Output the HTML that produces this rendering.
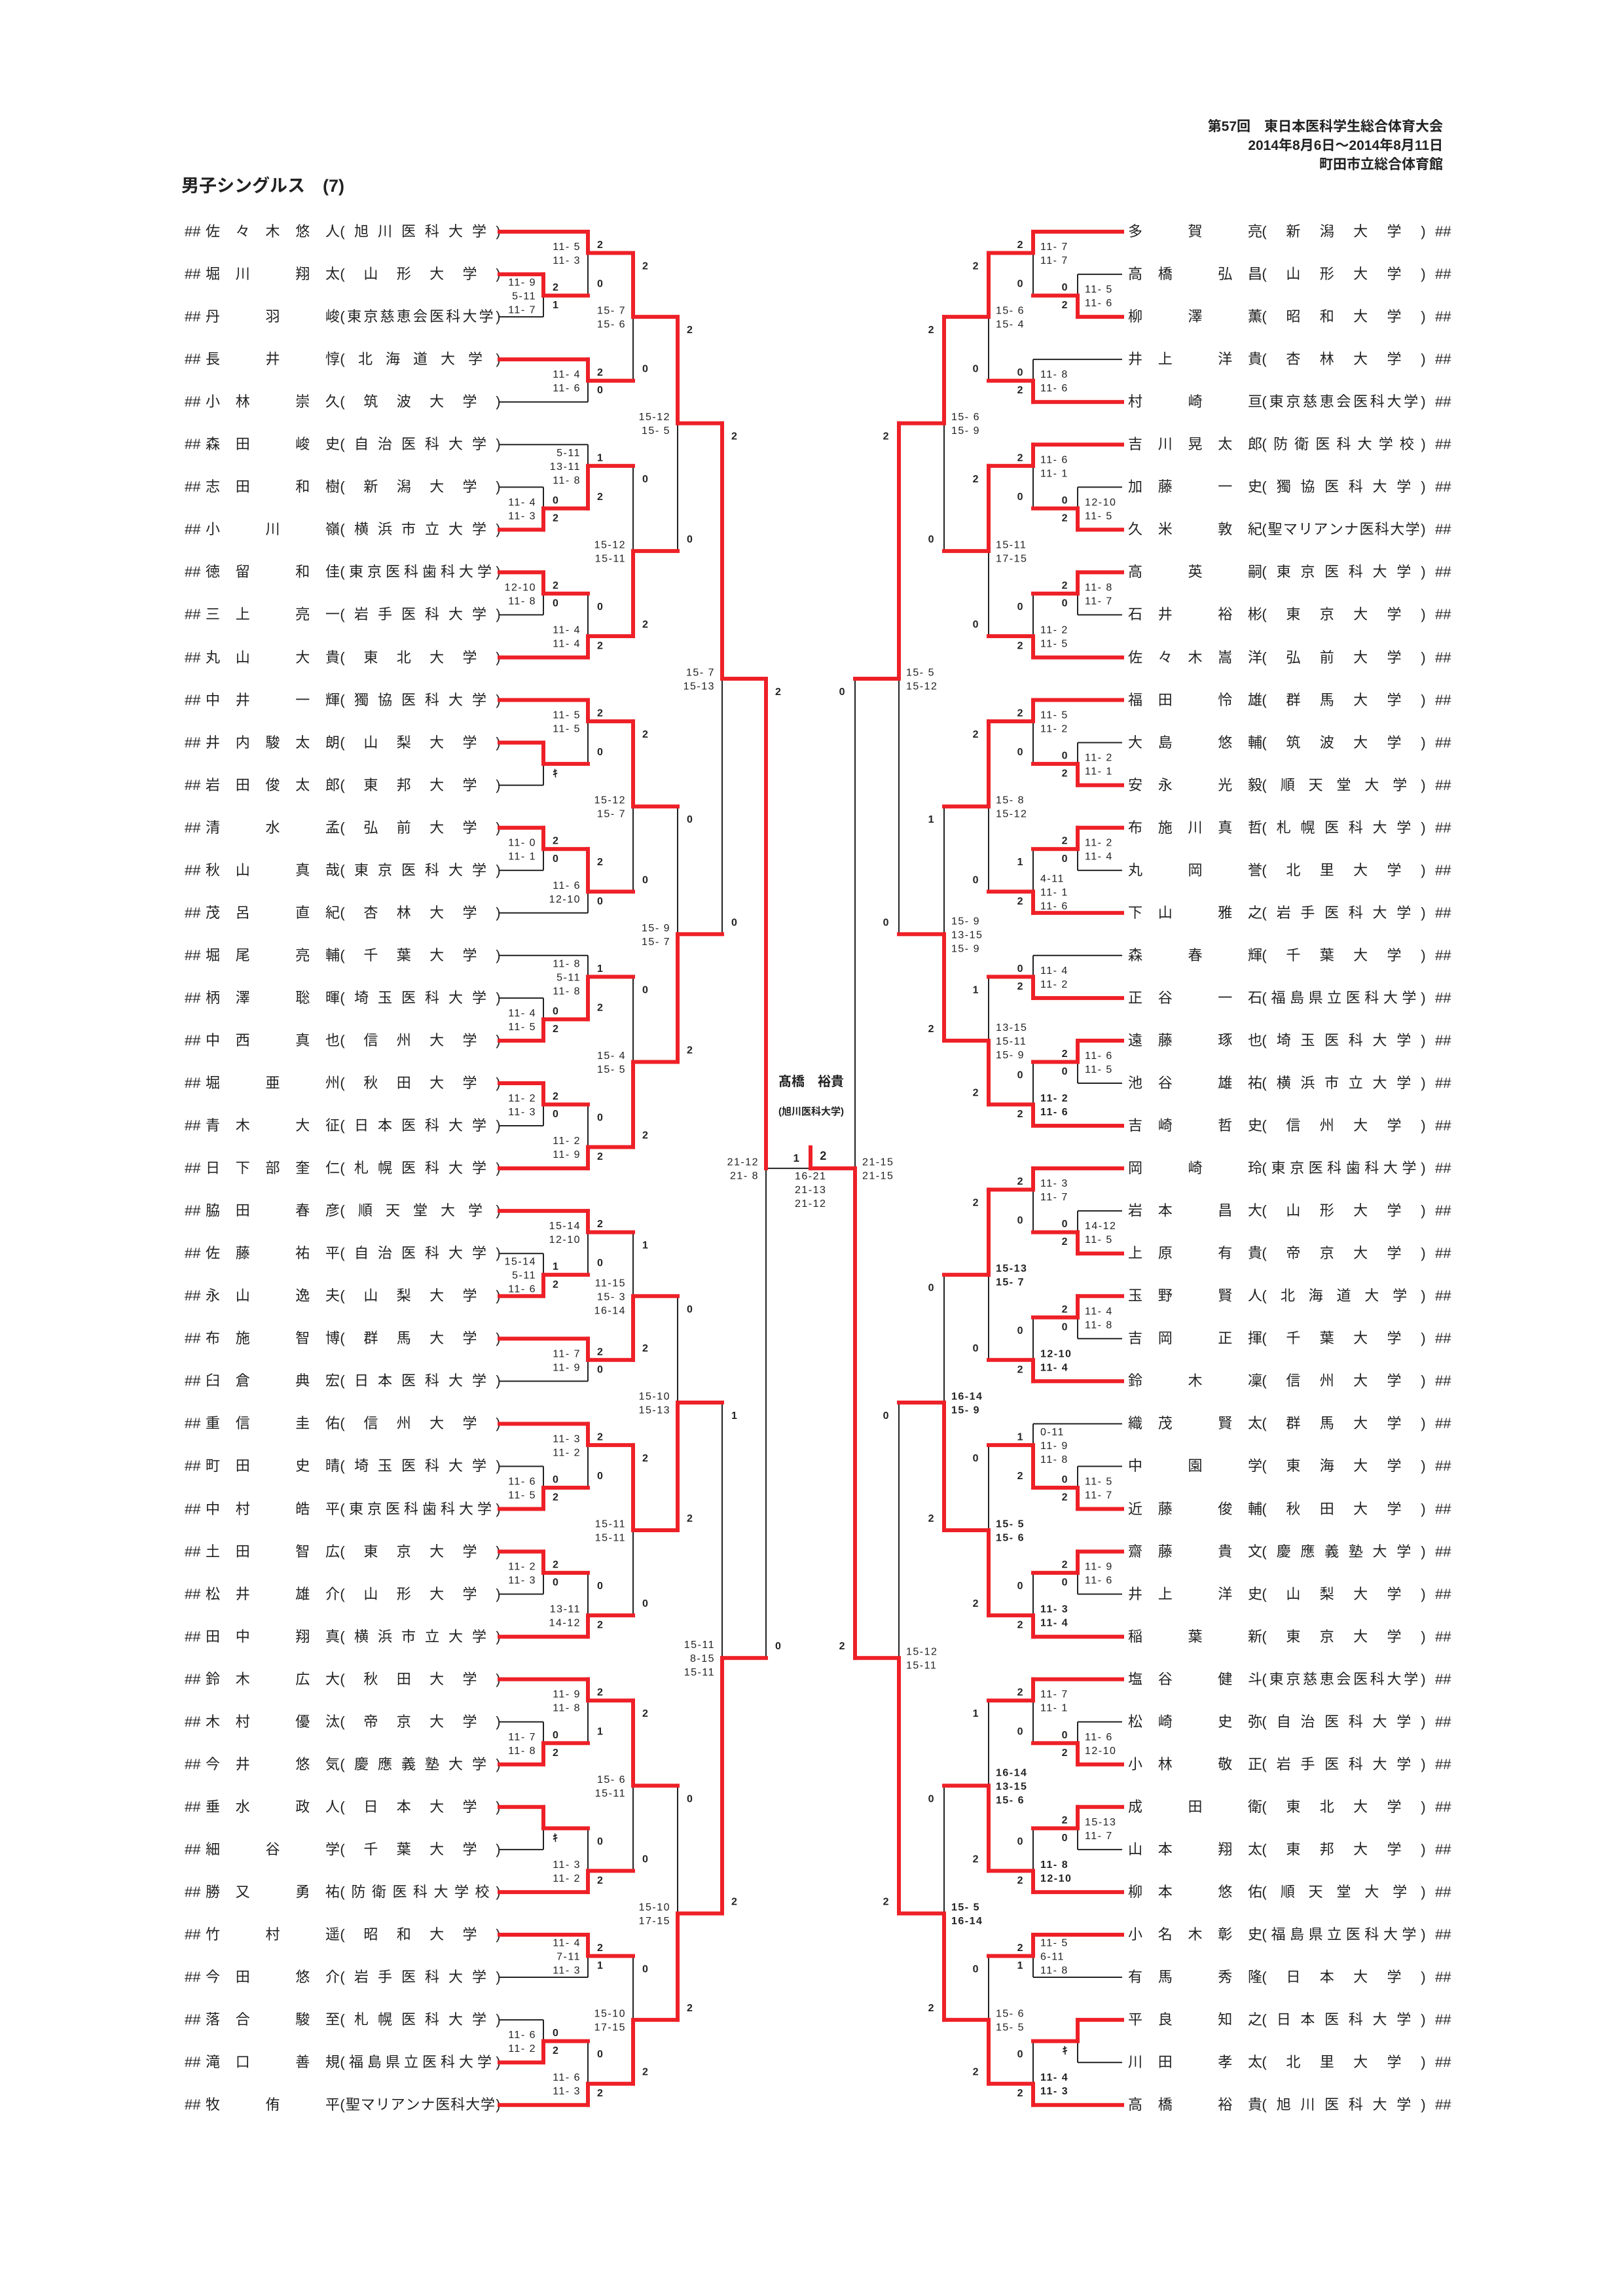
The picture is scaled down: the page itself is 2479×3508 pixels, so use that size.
<!DOCTYPE html>
<html><head><meta charset="utf-8">
<style>
html,body{margin:0;padding:0;background:#fff;}
body{width:2479px;height:3508px;position:relative;overflow:hidden;font-family:"Liberation Sans","Noto Sans CJK JP",sans-serif;color:#222;}
.abs{position:absolute;}
.f{position:absolute;display:flex;justify-content:space-between;height:28px;line-height:28px;font-size:22px;white-space:nowrap;}
.f span{display:inline-block;min-width:22px;text-align:center;}
.f span.p{min-width:8px;}
.hd{position:absolute;right:275px;font-weight:bold;font-size:21px;line-height:26px;white-space:nowrap;}
svg{position:absolute;left:0;top:0;}
svg text{font-family:"Liberation Sans","Noto Sans CJK JP",sans-serif;fill:#222;white-space:pre;letter-spacing:1.5px;}
</style></head><body>
<div class="abs" style="left:277px;top:268px;font-size:27px;font-weight:bold;line-height:32px;">男子シングルス　(7)</div>
<div class="hd" style="top:181px;">第57回　東日本医科学生総合体育大会</div>
<div class="hd" style="top:210px;">2014年8月6日～2014年8月11日</div>
<div class="hd" style="top:239px;">町田市立総合体育館</div>
<div class="abs" style="left:1139px;width:200px;text-align:center;top:1640px;font-size:20px;font-weight:bold;line-height:26px;">髙橋　裕貴</div>
<div class="abs" style="left:1139px;width:200px;text-align:center;top:1689px;font-size:15px;font-weight:bold;line-height:20px;">(旭川医科大学)</div>
<div id="rows"></div>
<svg id="sv" width="2479" height="3508" xmlns="http://www.w3.org/2000/svg"></svg>
<script>
const Y=s=>354+s*32.525;
const LN="佐々木悠人,堀川　翔太,丹　羽　峻,長　井　惇,小林　崇久,森田　峻史,志田　和樹,小　川　嶺,徳留　和佳,三上　亮一,丸山　大貴,中井　一輝,井内駿太朗,岩田俊太郎,清　水　孟,秋山　真哉,茂呂　直紀,堀尾　亮輔,柄澤　聡暉,中西　真也,堀　亜　州,青木　大征,日下部奎仁,脇田　春彦,佐藤　祐平,永山　逸夫,布施　智博,臼倉　典宏,重信　圭佑,町田　史晴,中村　皓平,土田　智広,松井　雄介,田中　翔真,鈴木　広大,木村　優汰,今井　悠気,垂水　政人,細　谷　学,勝又　勇祐,竹　村　遥,今田　悠介,落合　駿至,滝口　善規,牧　侑　平".split(',');
const LU="旭川医科大学,山形大学,東京慈恵会医科大学,北海道大学,筑波大学,自治医科大学,新潟大学,横浜市立大学,東京医科歯科大学,岩手医科大学,東北大学,獨協医科大学,山梨大学,東邦大学,弘前大学,東京医科大学,杏林大学,千葉大学,埼玉医科大学,信州大学,秋田大学,日本医科大学,札幌医科大学,順天堂大学,自治医科大学,山梨大学,群馬大学,日本医科大学,信州大学,埼玉医科大学,東京医科歯科大学,東京大学,山形大学,横浜市立大学,秋田大学,帝京大学,慶應義塾大学,日本大学,千葉大学,防衛医科大学校,昭和大学,岩手医科大学,札幌医科大学,福島県立医科大学,聖マリアンナ医科大学".split(',');
const RN="多　賀　亮,高橋　弘昌,柳　澤　薫,井上　洋貴,村　崎　亘,吉川晃太郎,加藤　一史,久米　敦紀,高　英　嗣,石井　裕彬,佐々木嵩洋,福田　怜雄,大島　悠輔,安永　光毅,布施川真哲,丸　岡　誉,下山　雅之,森　春　輝,正谷　一石,遠藤　琢也,池谷　雄祐,吉崎　哲史,岡　崎　玲,岩本　昌大,上原　有貴,玉野　賢人,吉岡　正揮,鈴　木　凜,織茂　賢太,中　園　学,近藤　俊輔,齋藤　貴文,井上　洋史,稲　葉　新,塩谷　健斗,松崎　史弥,小林　敬正,成　田　衛,山本　翔太,柳本　悠佑,小名木彰史,有馬　秀隆,平良　知之,川田　孝太,高橋　裕貴".split(',');
const RU="新潟大学,山形大学,昭和大学,杏林大学,東京慈恵会医科大学,防衛医科大学校,獨協医科大学,聖マリアンナ医科大学,東京医科大学,東京大学,弘前大学,群馬大学,筑波大学,順天堂大学,札幌医科大学,北里大学,岩手医科大学,千葉大学,福島県立医科大学,埼玉医科大学,横浜市立大学,信州大学,東京医科歯科大学,山形大学,帝京大学,北海道大学,千葉大学,信州大学,群馬大学,東海大学,秋田大学,慶應義塾大学,山梨大学,東京大学,東京慈恵会医科大学,自治医科大学,岩手医科大学,東北大学,東邦大学,順天堂大学,福島県立医科大学,日本大学,日本医科大学,北里大学,旭川医科大学".split(',');
let html='';
function field(x,w,y,items){
  html+=`<div class="f" style="left:${x}px;width:${w}px;top:${(y-14).toFixed(1)}px;">`+items.map(c=>c==='('||c===')'?`<span class="p">${c}</span>`:`<span>${c}</span>`).join('')+'</div>';
}
for(let i=0;i<45;i++){
  const y=Y(2*i);
  html+=`<div class="f" style="left:282px;top:${(y-14).toFixed(1)}px;">##</div>`;
  field(314,205,y,Array.from(LN[i]));
  field(519,246,y,['('].concat(Array.from(LU[i]),[')']));
  field(1723,205,y,Array.from(RN[i]));
  field(1927,251,y,['('].concat(Array.from(RU[i]),[')']));
  html+=`<div class="f" style="left:2192px;top:${(y-14).toFixed(1)}px;">##</div>`;
}
document.getElementById('rows').innerHTML=html;

const RED='#ee2027',BK='#222';
let bk='',rd='',tt='';
function rect(x1,y1,x2,y2,c){const r=`<rect x="${Math.min(x1,x2).toFixed(1)}" y="${Math.min(y1,y2).toFixed(1)}" width="${Math.abs(x2-x1).toFixed(1)}" height="${Math.abs(y2-y1).toFixed(1)}" fill="${c}"/>`;if(c===RED)rd+=r;else bk+=r;}
function hl(x1,x2,y,c,w){const e=w>2?w/2:0;rect(Math.min(x1,x2)-e,y-w/2,Math.max(x1,x2)+e,y+w/2,c);}
function vl(x,y1,y2,c,w){const e=w>2?w/2:0;rect(x-w/2,Math.min(y1,y2)-e,x+w/2,Math.max(y1,y2)+e,c);}
function tx(x,y,str,anchor,bold,size){if(!str)return;tt+=`<text x="${x}" y="${y.toFixed(1)}" text-anchor="${anchor}" font-size="${size||16}"${bold?' font-weight="bold"':''}>${str}</text>`;}

const LM=[
[0,2,4,3,0,1,1,"2","1","11- 9|5-11|11- 7"],
[1,0,3,1,0,1,0,"2","0","11- 5|11- 3"],
[1,6,8,7,0,1,1,"2","0","11- 4|11- 6"],
[2,1,7,4,0,0,0,"2","0","15- 7|15- 6"],
[0,12,14,13,1,1,1,"0","2","11- 4|11- 3"],
[1,10,13,11,1,1,0,"1","2","5-11|13-11|11- 8"],
[0,16,18,17,0,1,1,"2","0","12-10|11- 8"],
[1,17,20,19,1,0,1,"0","2","11- 4|11- 4"],
[2,11,19,15,1,0,0,"0","2","15-12|15-11"],
[3,4,15,9,0,0,0,"2","0","15-12|15- 5"],
[0,24,26,25,0,1,1,"","ｷ",""],
[1,22,25,23,0,1,0,"2","0","11- 5|11- 5"],
[0,28,30,29,0,1,1,"2","0","11- 0|11- 1"],
[1,29,32,31,0,0,1,"2","0","11- 6|12-10"],
[2,23,31,27,0,0,0,"2","0","15-12|15- 7"],
[0,36,38,37,1,1,1,"0","2","11- 4|11- 5"],
[1,34,37,35,1,1,0,"1","2","11- 8|5-11|11- 8"],
[0,40,42,41,0,1,1,"2","0","11- 2|11- 3"],
[1,41,44,43,1,0,1,"0","2","11- 2|11- 9"],
[2,35,43,39,1,0,0,"0","2","15- 4|15- 5"],
[3,27,39,33,1,0,0,"0","2","15- 9|15- 7"],
[4,9,33,21,0,0,0,"2","0","15- 7|15-13"],
[0,48,50,49,1,1,1,"1","2","15-14|5-11|11- 6"],
[1,46,49,47,0,1,0,"2","0","15-14|12-10"],
[1,52,54,53,0,1,1,"2","0","11- 7|11- 9"],
[2,47,53,50,1,0,0,"1","2","11-15|15- 3|16-14"],
[0,58,60,59,1,1,1,"0","2","11- 6|11- 5"],
[1,56,59,57,0,1,0,"2","0","11- 3|11- 2"],
[0,62,64,63,0,1,1,"2","0","11- 2|11- 3"],
[1,63,66,65,1,0,1,"0","2","13-11|14-12"],
[2,57,65,61,0,0,0,"2","0","15-11|15-11"],
[3,50,61,55,1,0,0,"0","2","15-10|15-13"],
[0,70,72,71,1,1,1,"0","2","11- 7|11- 8"],
[1,68,71,69,0,1,0,"2","1","11- 9|11- 8"],
[0,74,76,75,0,1,1,"","ｷ",""],
[1,75,78,77,1,0,1,"0","2","11- 3|11- 2"],
[2,69,77,73,0,0,0,"2","0","15- 6|15-11"],
[1,80,82,81,0,1,1,"2","1","11- 4|7-11|11- 3"],
[0,84,86,85,1,1,1,"0","2","11- 6|11- 2"],
[1,85,88,87,1,0,1,"0","2","11- 6|11- 3"],
[2,81,87,84,1,0,0,"0","2","15-10|17-15"],
[3,73,84,79,1,0,0,"0","2","15-10|17-15"],
[4,55,79,67,1,0,0,"1","2","15-11|8-15|15-11"],
[5,21,67,44,0,0,0,"2","0","21-12|21- 8"]];
const RM=[
[0,2,4,3,1,1,1,"0","2","11- 5|11- 6"],
[1,0,3,1,0,1,0,"2","0","11- 7|11- 7"],
[1,6,8,7,1,1,1,"0","2","11- 8|11- 6"],
[2,1,7,4,0,0,0,"2","0","15- 6|15- 4"],
[0,12,14,13,1,1,1,"0","2","12-10|11- 5"],
[1,10,13,11,0,1,0,"2","0","11- 6|11- 1"],
[0,16,18,17,0,1,1,"2","0","11- 8|11- 7"],
[1,17,20,19,1,0,1,"0","2","11- 2|11- 5"],
[2,11,19,15,0,0,0,"2","0","15-11|17-15"],
[3,4,15,9,0,0,0,"2","0","15- 6|15- 9"],
[0,24,26,25,1,1,1,"0","2","11- 2|11- 1"],
[1,22,25,23,0,1,0,"2","0","11- 5|11- 2"],
[0,28,30,29,0,1,1,"2","0","11- 2|11- 4"],
[1,29,32,31,1,0,1,"1","2","4-11|11- 1|11- 6"],
[2,23,31,27,0,0,0,"2","0","15- 8|15-12"],
[1,34,36,35,1,1,1,"0","2","11- 4|11- 2"],
[0,38,40,39,0,1,1,"2","0","11- 6|11- 5"],
[1,39,42,41,1,0,1,"0","2","*11- 2|11- 6"],
[2,35,41,38,1,0,0,"1","2","13-15|15-11|15- 9"],
[3,27,38,33,1,0,0,"1","2","15- 9|13-15|15- 9"],
[4,9,33,21,0,0,0,"2","0","15- 5|15-12"],
[0,46,48,47,1,1,1,"0","2","14-12|11- 5"],
[1,44,47,45,0,1,0,"2","0","11- 3|11- 7"],
[0,50,52,51,0,1,1,"2","0","11- 4|11- 8"],
[1,51,54,53,1,0,1,"0","2","*12-10|11- 4"],
[2,45,53,49,0,0,0,"2","0","*15-13|15- 7"],
[0,58,60,59,1,1,1,"0","2","11- 5|11- 7"],
[1,56,59,57,1,1,0,"1","2","0-11|11- 9|11- 8"],
[0,62,64,63,0,1,1,"2","0","11- 9|11- 6"],
[1,63,66,65,1,0,1,"0","2","*11- 3|11- 4"],
[2,57,65,61,1,0,0,"0","2","*15- 5|15- 6"],
[3,49,61,55,1,0,0,"0","2","*16-14|15- 9"],
[0,70,72,71,1,1,1,"0","2","11- 6|12-10"],
[1,68,71,69,0,1,0,"2","0","11- 7|11- 1"],
[0,74,76,75,0,1,1,"2","0","15-13|11- 7"],
[1,75,78,77,1,0,1,"0","2","*11- 8|12-10"],
[2,69,77,73,1,0,0,"1","2","*16-14|13-15|15- 6"],
[1,80,82,81,0,1,1,"2","1","11- 5|6-11|11- 8"],
[0,84,86,85,0,1,1,"","ｷ",""],
[1,85,88,87,1,0,1,"0","2","*11- 4|11- 3"],
[2,81,87,84,1,0,0,"0","2","15- 6|15- 5"],
[3,73,84,79,1,0,0,"0","2","*15- 5|16-14"],
[4,55,79,67,1,0,0,"0","2","15-12|15-11"],
[5,21,67,44,1,0,0,"0","2","21-15|21-15"]];
function side(M,X,nx,d){
  for(const m of M){
    const [L,t,b,o,w,tp,bp,ct,cb,sc]=m;const x=X[L];
    vl(x,Y(t),Y(b),BK,2);
    if(tp){ if(w===0) hl(nx,x,Y(t),RED,6); else hl(nx,x,Y(t),BK,2); }
    if(bp){ if(w===1) hl(nx,x,Y(b),RED,6); else hl(nx,x,Y(b),BK,2); }
    vl(x,Y(w?b:t),Y(o),RED,6);
    if(L<5) hl(x,X[L+1],Y(o),RED,6);
    const an=d>0?'start':'end';
    if(cb==='ｷ'){ tx(x+d*14,Y(o)+20,'ｷ',an,true,16); }
    else { tx(x+d*14,Y(t)+19+6,ct,an,true,16); tx(x+d*14,Y(b)-19+6,cb,an,true,16); }
    if(sc){
      let bold=false,s2=sc; if(s2[0]==='*'){bold=true;s2=s2.slice(1);}
      const arr=s2.split('|');const n=arr.length;
      arr.forEach((v,i)=>tx(x-d*11,Y(o)+(i-(n-1)/2)*21+6,v,d>0?'end':'start',bold,16));
    }
  }
}
side(LM,[830,898,967,1035,1103,1170],763,1);
side(RM,[1646,1578,1510,1442,1373,1306],1714,-1);
// final
hl(1170,1238,Y(44),BK,2);
hl(1306,1238,Y(44),RED,6);
vl(1238,1753,Y(44),RED,6);
tx(1217,1775,'1','middle',true,17);
tx(1258,1772,'2','middle',true,18);
tx(1214,1802,'16-21','start',false,16);
tx(1214,1823,'21-13','start',false,16);
tx(1214,1844,'21-12','start',false,16);
document.getElementById('sv').innerHTML=bk+rd+tt;
</script>
</body></html>
